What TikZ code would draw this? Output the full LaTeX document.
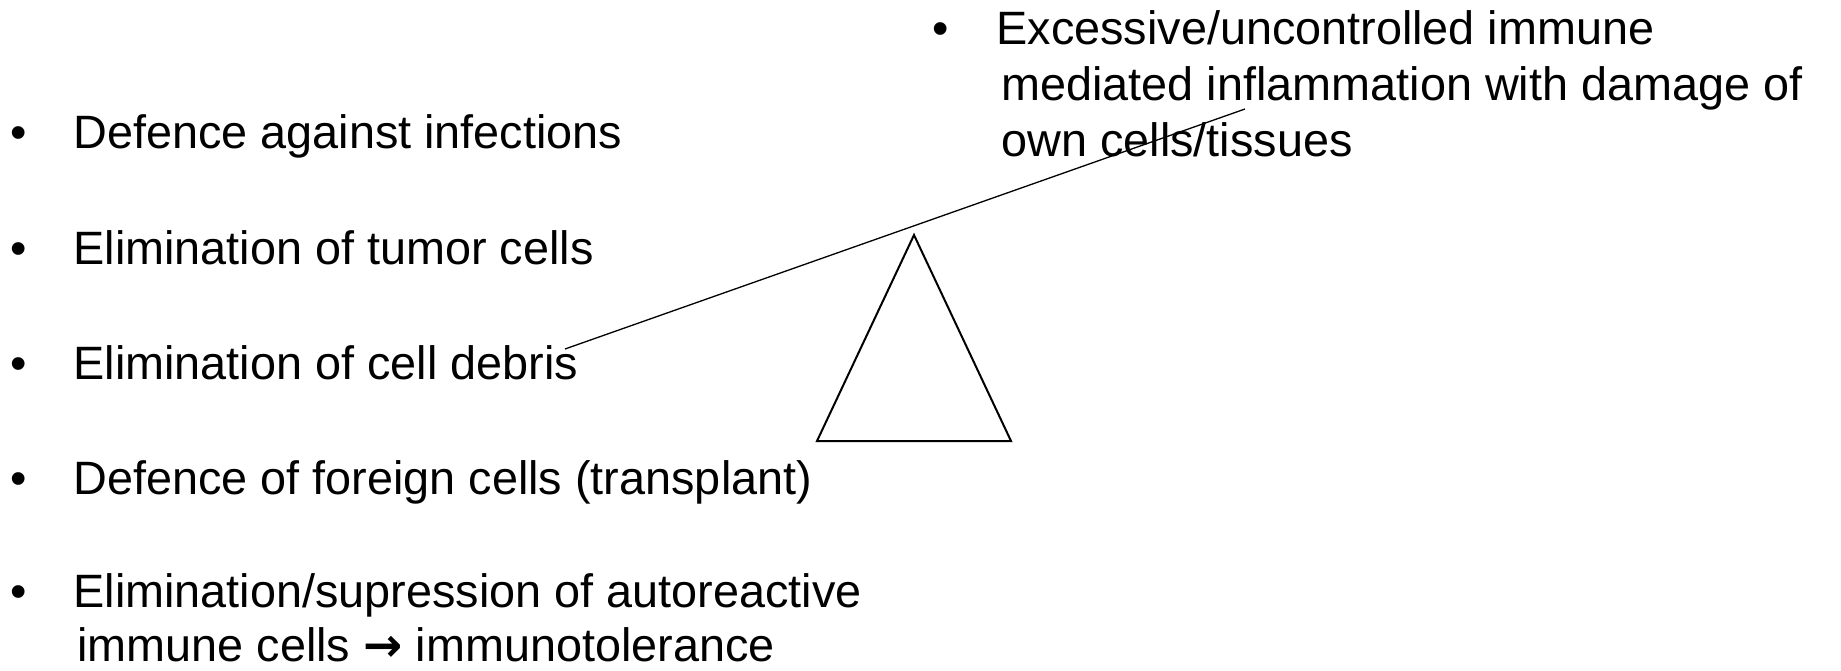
\documentclass[tikz,border=0pt]{standalone}
\usepackage{fontspec}
\setmainfont{Liberation Sans}
\newfontfamily\arrowfont{DejaVu Sans}
\usepackage{tikz}

\tikzset{
  itemtext/.style={anchor=base west, inner sep=0pt, font=\fontsize{23.4}{28}\selectfont},
  dot/.style={anchor=base, inner sep=0pt, font=\fontsize{23.4}{28}\selectfont},
}

\begin{document}
\begin{tikzpicture}[x=1pt,y=-1pt,scale=.5]
        \useasboundingbox (0, 0) rectangle (1841, 670);
        % good side
        \node[dot] (b1) at (19, 148) {•};
        \node[itemtext] (infect) at (73, 148) {Defence against infections};
        \node[dot] (b2) at (19, 264) {•};
        \node[itemtext] (tumor) at (73, 264) {Elimination of tumor cells};
        \node[dot] (b3) at (19, 379) {•};
        \node[itemtext] (debris) at (73, 379) {Elimination of cell debris};
        \node[dot] (b4) at (19, 494) {•};
        \node[itemtext] (foreign) at (73, 494) {Defence of foreign cells (transplant)};
        \node[dot] (b5) at (19, 607) {•};
        \node[itemtext] (autoa) at (73, 607) {Elimination/supression of autoreactive};
        \node[itemtext] (autob) at (77, 661) {immune cells {\arrowfont\bfseries →} immunotolerance};
        % bad side
        \node[dot] (b6) at (941, 44) {•};
        \node[itemtext] (excessa) at (996, 44) {Excessive/uncontrolled immune};
        \node[itemtext] (excessb) at (1001, 100) {mediated inflammation with damage of};
        \node[itemtext] (excessc) at (1001, 156) {own cells/tissues};
        % balance
        \coordinate (beamL) at (565, 349);
        \coordinate (beamR) at (1245, 109);
        \draw[line width=.65pt] (beamL) -- (beamR);
        \draw[line width=1pt] (914, 235) -- (817, 441) -- (1011, 441) -- cycle;
    \end{tikzpicture}
\end{document}
